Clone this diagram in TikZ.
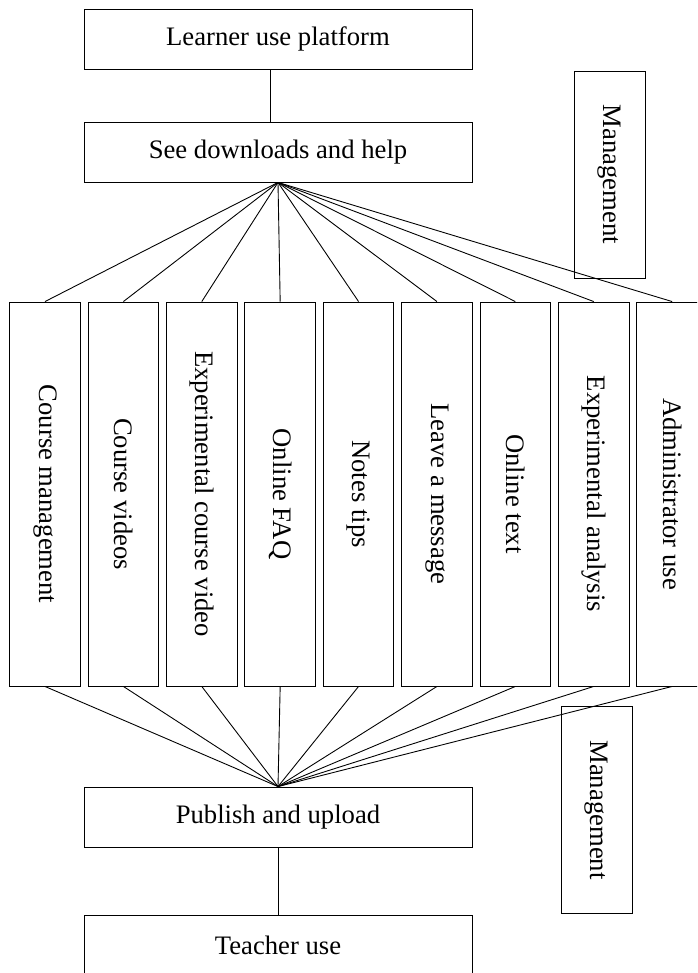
\documentclass[tikz,border=0pt]{standalone}
\usepackage{fontspec}
\setmainfont{Liberation Serif}
\usetikzlibrary{positioning}
\newcommand{\px}{0.45pt} % one pixel of the layout
\tikzset{
x=\px, y=-\px, % work in pixels, y going down
node distance=3.15pt, % gap between two columns
line width=0.9pt,
every node/.style={font=\fontsize{12}{14}\selectfont, inner sep=0pt},
box/.style={draw, minimum width=388*\px, minimum height=60*\px}, % the wide boxes
col/.style={draw, minimum width=70.5*\px, minimum height=384*\px}, % the tall columns
side/.style={draw, minimum width=71*\px, minimum height=207*\px}, % management boxes
}

\begin{document}
\begin{tikzpicture}
\useasboundingbox (0,0) rectangle (697,973);
\clip (0,0) rectangle (697,973);

\node[box] (lu) at (278,39) {Learner use platform};
\node[box] (sd) at (278,152) {See downloads and help};
\node[box] (pu) at (278,817) {Publish and upload};
\node[box] (tu) at (278,945) {Teacher use};

\node[side] (m1) at (609.5,174.5) {\rotatebox{-90}{Management}};
\node[side] (m2) at (596.5,810) {\rotatebox{-90}{Management}};

\node[col] (c1) at (45,494) {\rotatebox{-90}{Course management}};
\node[col, right=of c1] (c2) {\rotatebox{-90}{Course videos}};
\node[col, right=of c2] (c3) {\rotatebox{-90}{Experimental course video}};
\node[col, right=of c3] (c4) {\rotatebox{-90}{Online FAQ}};
\node[col, right=of c4] (c5) {\rotatebox{-90}{Notes tips}};
\node[col, right=of c5] (c6) {\rotatebox{-90}{Leave a message}};
\node[col, right=of c6] (c7) {\rotatebox{-90}{Online text}};
\node[col, right=of c7] (c8) {\rotatebox{-90}{Experimental analysis}};
\node[col, right=of c8] (c9) {\rotatebox{-90}{Administrator use}};

\draw
([xshift=-8*\px]lu.south) edge ([xshift=-8*\px]sd.north)
(pu.south) edge (tu.north);

\draw
(sd.south) edge (c1.north)
(sd.south) edge (c2.north)
(sd.south) edge (c3.north)
(sd.south) edge (c4.north)
(sd.south) edge (c5.north)
(sd.south) edge (c6.north)
(sd.south) edge (c7.north)
(sd.south) edge (c8.north)
(sd.south) edge (c9.north);

\draw
(c1.south) edge (pu.north)
(c2.south) edge (pu.north)
(c3.south) edge (pu.north)
(c4.south) edge (pu.north)
(c5.south) edge (pu.north)
(c6.south) edge (pu.north)
(c7.south) edge (pu.north)
(c8.south) edge (pu.north)
(c9.south) edge (pu.north);

\end{tikzpicture}
\end{document}
